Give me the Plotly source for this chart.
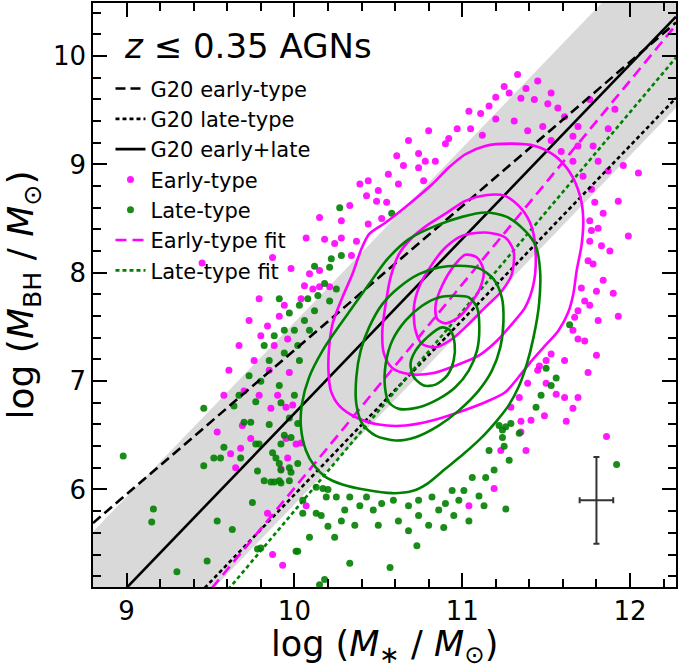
import plotly.graph_objects as go

FONT = "DejaVu Sans"
MAGENTA = "#ff00ff"
GREEN = "#008000"

# Axis limits
X_RANGE = [8.8, 12.274]
Y_RANGE = [5.1, 10.49]

# Scaling relations: log M_BH = a + b * (log M* - PIVOT)
PIVOT = 10.477
g20_early = (7.92, 1.33)
g20_late = (6.72, 1.61)
g20_all = (7.47, 1.61)
g20_all_scatter = 0.84
fit_early = (6.91, 1.88)
fit_late = (6.68, 1.84)

# Early-type AGNs lying outside the outermost density contour
early_x = [11.33, 11.45, 11.20, 11.28, 11.35, 11.43, 11.51, 11.76, 11.91,
           11.04, 10.97, 11.05, 11.12, 11.20, 11.48, 11.57, 11.61, 11.69, 11.87,
           10.90, 10.92, 10.84, 10.78, 10.74, 10.74, 10.61, 10.62, 10.56, 10.55, 10.49, 10.43, 10.44, 10.39,
           10.28, 10.15, 10.07, 10.18, 10.24, 10.28, 10.37, 10.44, 10.52,
           10.09, 10.15, 9.87, 9.98, 9.45, 9.79, 10.04,
           10.06, 10.11, 10.15, 10.21,
           9.94, 9.91, 9.84, 9.80, 9.88, 9.96, 9.85, 9.76, 9.97, 9.70, 9.79, 9.90,
           9.54, 9.69, 9.74, 9.68, 9.62, 9.65, 9.86, 9.95, 9.96, 9.92, 10.01, 10.04, 9.84, 9.87, 9.93, 10.07, 9.95, 9.99,
           11.77, 11.79, 11.76, 11.77, 11.76, 11.75, 11.78, 11.71, 11.73, 11.76, 11.69, 11.67, 11.69, 11.73,
           11.61, 11.53, 11.50, 11.45, 11.46, 11.39, 11.50, 11.56, 11.61, 11.69, 11.34, 11.29, 11.38, 11.35,
           11.41, 11.62, 11.35, 11.23, 11.86,
           11.87, 11.96, 12.05, 11.84, 11.93, 11.99, 11.88, 11.84, 11.90, 11.81, 11.93, 11.80,
           11.66, 11.59, 11.53, 11.69, 11.39, 11.31, 11.16,
           10.68, 10.80, 10.65, 10.50, 10.33, 10.77, 10.34,
           11.19, 11.04,
           11.25, 11.38, 11.11, 11.53, 11.66, 11.78, 11.81, 11.72, 11.81, 11.83, 11.80, 11.66, 11.75, 11.66, 11.49,
           9.73, 9.67, 9.61, 9.58]
early_y = [9.83, 9.77, 9.62, 9.66, 9.61, 9.60, 9.56, 9.60, 9.51,
           9.49, 9.33, 9.33, 9.27, 9.42, 9.35, 9.52, 9.44, 9.35, 9.33,
           9.19, 9.24, 9.03, 9.03, 9.10, 8.97, 9.08, 8.82, 8.91, 8.65, 8.66, 8.71, 8.85, 8.82,
           8.48, 8.51, 8.32, 8.31, 8.27, 8.32, 8.29, 8.45, 8.50,
           7.99, 8.02, 8.14, 8.04, 8.09, 7.76, 7.76,
           7.88, 7.85, 7.87, 7.87,
           7.70, 7.60, 7.51, 7.42, 7.33, 7.39, 7.10, 7.19, 7.08, 6.91, 6.87, 6.87,
           6.53, 6.59, 6.47, 6.38, 6.33, 6.20, 6.75, 6.47, 6.29, 6.19, 6.42, 6.43, 5.78, 5.40, 5.30, 5.85, 6.76, 6.78,
           8.77, 8.65, 8.48, 8.39, 8.29, 8.11, 8.08, 7.86, 7.74, 7.70, 7.65, 7.59, 7.39, 7.37,
           7.19, 7.25, 7.19, 7.10, 7.14, 6.98, 6.98, 6.88, 6.85, 6.85, 6.85, 6.76, 6.36, 6.63,
           6.64, 6.63, 6.53, 6.36, 6.49,
           8.94, 8.99, 8.92, 8.55, 8.66, 8.34, 8.20, 7.93, 7.81, 7.56, 7.60, 7.24,
           9.03, 9.12, 9.22, 9.17, 9.31, 9.40, 9.54,
           9.22, 9.31, 8.99, 8.76, 8.62, 8.85, 8.16,
           6.01, 5.85,
           9.72, 9.70, 9.47, 9.66, 9.26, 9.17, 9.03, 8.89, 8.41, 8.25, 7.83, 7.47, 7.08, 6.75, 6.68,
           7.56, 7.33, 7.10, 6.87]

# Late-type AGNs lying outside the outermost density contour
late_x = [8.98, 9.16, 9.15, 9.30, 9.48, 9.46, 9.46, 9.54, 9.63, 9.58, 9.52, 9.56, 9.68, 9.70, 9.74,
          9.79, 9.77, 9.75, 9.78, 9.82, 9.86, 9.88, 9.91, 9.85, 9.92, 9.77, 9.94, 9.92, 9.87, 9.89,
          9.91, 9.97, 9.98, 10.02, 9.92, 9.97, 9.92, 10.02, 9.98, 9.97, 9.78, 9.80, 10.01, 10.02,
          10.15, 10.18, 10.33, 10.57, 10.73,
          10.27, 10.58, 10.22, 10.28, 10.12, 10.21, 10.18, 9.91, 10.08, 10.14, 10.03, 9.97, 10.06,
          10.00, 9.94, 9.88, 9.82, 9.94, 9.85, 9.73, 9.80, 9.91, 9.67, 10.00, 9.64, 10.03, 10.02,
          10.09, 10.12, 10.21, 10.25,
          10.17, 10.20, 10.25, 10.13, 10.19, 10.05, 10.13, 10.16, 10.05, 10.09, 10.20, 10.24, 10.33,
          10.43, 10.52, 10.82, 10.90, 10.94, 11.06, 11.14, 11.16, 11.24, 11.29, 11.44, 11.50, 11.56,
          11.64, 11.22, 11.26, 11.24, 11.34, 11.25, 11.28, 11.26, 11.92,
          10.30, 10.39, 10.47, 10.59, 10.68, 10.74, 10.86, 10.98, 11.04, 10.62, 10.50, 10.80, 10.36,
          10.28, 10.74, 11.01, 11.10, 11.19, 10.95,
          11.47, 11.53, 11.13, 10.68, 10.89]
late_y = [6.31, 5.82, 5.70, 5.24, 5.34, 6.75, 6.22, 5.71, 5.63, 6.39, 6.29, 6.29, 6.29, 6.62, 6.62,
          6.42, 6.42, 5.88, 6.17, 6.08, 6.07, 6.07, 6.08, 6.60, 6.80, 6.81, 6.50, 6.42, 6.34, 6.29,
          6.24, 6.20, 6.16, 6.24, 6.18, 6.08, 6.06, 6.61, 6.48, 6.66, 5.45, 5.46, 5.43, 5.43,
          5.12, 5.17, 5.32, 5.28, 5.48,
          8.60, 8.55, 8.13, 8.16, 8.06, 8.05, 7.90, 7.76, 7.76, 7.79, 7.70, 7.63, 7.56,
          7.47, 7.47, 7.42, 7.33, 7.26, 7.19, 7.05, 7.00, 6.96, 6.87, 6.87, 6.77, 7.19, 7.33,
          7.47, 7.65, 7.74, 7.85,
          6.01, 6.00, 5.93, 6.02, 5.93, 5.90, 5.78, 5.76, 5.78, 5.56, 5.66, 5.56, 5.93,
          5.93, 5.87, 5.93, 5.87, 5.99, 6.11, 6.11, 6.36, 6.48, 6.61, 6.76, 7.12, 7.03,
          7.52, 6.59, 6.58, 6.55, 6.52, 6.40, 6.27, 5.82, 6.23,
          5.81, 5.85, 5.81, 5.90, 5.85, 5.90, 5.81, 5.90, 5.71, 5.71, 5.67, 5.67, 5.67,
          5.71, 5.76, 5.99, 5.94, 6.18, 5.76,
          6.87, 6.96, 5.85, 5.62, 5.65]

# Density contours of the early-type sample (outer to inner)
early_c1_x = [11.137, 11.296, 11.434, 11.553, 11.642, 11.702, 11.721, 11.712, 11.682, 11.662, 11.632, 11.573,
              11.494, 11.415, 11.335, 11.256, 11.137, 10.979, 10.821, 10.662, 10.504, 10.366, 10.267, 10.217,
              10.203, 10.207, 10.227, 10.286, 10.346, 10.395, 10.445, 10.544, 10.682, 10.821, 10.920, 11.019]
early_c1_y = [9.171, 9.192, 9.171, 9.079, 8.925, 8.710, 8.510, 8.264, 8.019, 7.804, 7.635, 7.466,
              7.327, 7.189, 7.036, 6.897, 6.805, 6.713, 6.636, 6.590, 6.599, 6.667, 6.774, 6.913,
              7.097, 7.312, 7.527, 7.773, 7.988, 8.203, 8.357, 8.464, 8.633, 8.817, 8.971, 9.094]
early_c2_x = [11.137, 11.256, 11.355, 11.415, 11.438, 11.425, 11.375, 11.296, 11.207, 11.098, 10.959, 10.821,
              10.682, 10.583, 10.534, 10.524, 10.544, 10.573, 10.623, 10.702, 10.801, 10.910, 11.019]
early_c2_y = [8.716, 8.710, 8.587, 8.418, 8.172, 7.896, 7.681, 7.527, 7.373, 7.235, 7.143, 7.072,
              7.066, 7.122, 7.251, 7.466, 7.711, 7.957, 8.172, 8.326, 8.449, 8.556, 8.664]
early_c3_x = [11.137, 11.256, 11.306, 11.296, 11.237, 11.137, 11.039, 10.940, 10.841, 10.761, 10.722, 10.712,
              10.742, 10.821, 10.900, 10.999]
early_c3_y = [8.372, 8.326, 8.203, 7.988, 7.834, 7.681, 7.527, 7.389, 7.312, 7.343, 7.466, 7.681,
              7.865, 8.080, 8.234, 8.341]
early_c4_x = [11.019, 11.088, 11.128, 11.108, 11.048, 10.979, 10.900, 10.851, 10.841, 10.880, 10.959]
early_c4_y = [8.166, 8.142, 8.019, 7.865, 7.711, 7.589, 7.533, 7.573, 7.696, 7.880, 8.080]

# Density contours of the late-type sample (outer to inner)
late_c1_x = [11.137, 11.266, 11.375, 11.438, 11.464, 11.458, 11.425, 11.385, 11.335, 11.276, 11.207, 11.118,
             11.009, 10.900, 10.791, 10.702, 10.583, 10.425, 10.286, 10.187, 10.118, 10.069, 10.039, 10.045,
             10.088, 10.168, 10.247, 10.346, 10.445, 10.554, 10.682, 10.841, 10.999]
late_c1_y = [8.556, 8.516, 8.387, 8.249, 8.019, 7.711, 7.404, 7.158, 6.943, 6.774, 6.636, 6.483,
             6.329, 6.191, 6.052, 5.985, 5.966, 5.997, 6.046, 6.114, 6.221, 6.360, 6.575, 6.790,
             7.036, 7.281, 7.466, 7.681, 7.896, 8.126, 8.311, 8.433, 8.516]
late_c2_x = [10.979, 11.098, 11.187, 11.236, 11.246, 11.227, 11.177, 11.098, 10.979, 10.860, 10.722, 10.603,
             10.484, 10.405, 10.369, 10.369, 10.395, 10.445, 10.524, 10.623, 10.742, 10.860]
late_c2_y = [8.065, 8.043, 7.942, 7.773, 7.558, 7.312, 7.097, 6.913, 6.728, 6.590, 6.483, 6.452,
             6.498, 6.605, 6.790, 7.036, 7.281, 7.496, 7.711, 7.865, 7.988, 8.049]
late_c3_x = [10.959, 11.039, 11.088, 11.102, 11.088, 11.039, 10.959, 10.860, 10.742, 10.623, 10.563, 10.540,
             10.544, 10.583, 10.662, 10.761, 10.860]
late_c3_y = [7.788, 7.773, 7.681, 7.496, 7.281, 7.097, 6.943, 6.836, 6.759, 6.744, 6.805, 6.943,
             7.158, 7.373, 7.558, 7.696, 7.773]
late_c4_x = [10.880, 10.930, 10.955, 10.949, 10.910, 10.841, 10.771, 10.712, 10.692, 10.722, 10.791]
late_c4_y = [7.496, 7.466, 7.343, 7.189, 7.051, 6.968, 6.959, 7.036, 7.158, 7.281, 7.404]

# Typical measurement uncertainty
err_x, err_y = 11.8, 5.9
err_dx, err_dy = 0.1, 0.4

LW = 2.6


def relation(params, xs, offset=0.0):
    a, b = params
    return [a + b * (x - PIVOT) + offset for x in xs]


def closed(xs, ys):
    return xs + xs[:1], ys + ys[:1]


line_x = [X_RANGE[0], X_RANGE[1]]
fig = go.Figure()

# Scatter band around the combined relation
fig.add_trace(go.Scatter(x=line_x, y=relation(g20_all, line_x, -g20_all_scatter), mode="lines",
                         line=dict(width=0, color="rgba(0,0,0,0)"), showlegend=False, hoverinfo="skip"))
fig.add_trace(go.Scatter(x=line_x, y=relation(g20_all, line_x, g20_all_scatter), mode="lines",
                         line=dict(width=0, color="rgba(0,0,0,0)"), fill="tonexty",
                         fillcolor="#d9d9d9", showlegend=False, hoverinfo="skip"))

legend_traces = [
    go.Scatter(x=line_x, y=relation(g20_early, line_x), mode="lines",
               line=dict(color="black", width=LW, dash="10px,5px"), name="G20 early-type"),
    go.Scatter(x=line_x, y=relation(g20_late, line_x), mode="lines",
               line=dict(color="black", width=LW, dash="4px,3px"), name="G20 late-type"),
    go.Scatter(x=line_x, y=relation(g20_all, line_x), mode="lines",
               line=dict(color="black", width=LW), name="G20 early+late"),
    go.Scatter(x=early_x, y=early_y, mode="markers",
               marker=dict(color=MAGENTA, size=7, opacity=0.9), name="Early-type"),
    go.Scatter(x=late_x, y=late_y, mode="markers",
               marker=dict(color=GREEN, size=7, opacity=0.9), name="Late-type"),
    go.Scatter(x=line_x, y=relation(fit_early, line_x), mode="lines",
               line=dict(color=MAGENTA, width=LW, dash="11px,6px"), name="Early-type fit"),
    go.Scatter(x=line_x, y=relation(fit_late, line_x), mode="lines",
               line=dict(color=GREEN, width=LW, dash="4px,3px"), name="Late-type fit"),
]

# Points go underneath the relations; legend order is kept by rank
for i in (3, 4, 0, 1, 2, 5, 6):
    t = legend_traces[i]
    t.legendrank = 1000 + i
    fig.add_trace(t)

for cx, cy, col in [(early_c1_x, early_c1_y, MAGENTA), (early_c2_x, early_c2_y, MAGENTA),
                    (early_c3_x, early_c3_y, MAGENTA), (early_c4_x, early_c4_y, MAGENTA),
                    (late_c1_x, late_c1_y, GREEN), (late_c2_x, late_c2_y, GREEN),
                    (late_c3_x, late_c3_y, GREEN), (late_c4_x, late_c4_y, GREEN)]:
    xs, ys = closed(cx, cy)
    fig.add_trace(go.Scatter(x=xs, y=ys, mode="lines",
                             line=dict(color=col, width=LW, shape="spline", smoothing=0.8),
                             showlegend=False, hoverinfo="skip"))

# Representative error bar
fig.add_trace(go.Scatter(x=[err_x], y=[err_y], mode="markers", marker=dict(size=1, color="#333333"),
                         error_x=dict(type="constant", value=err_dx, color="#333333", thickness=2, width=3),
                         error_y=dict(type="constant", value=err_dy, color="#333333", thickness=2, width=3),
                         showlegend=False, hoverinfo="skip"))

axis_common = dict(
    showgrid=False, zeroline=False, showline=True, linecolor="black", linewidth=1.5,
    mirror="ticks", ticks="inside", ticklen=14, tickwidth=1.5, tickcolor="black",
    tickfont=dict(family=FONT, size=26, color="black"),
    minor=dict(ticks="inside", ticklen=8, tickwidth=1.5, tickcolor="black", dtick=0.2),
)

fig.update_layout(
    width=679, height=668,
    margin=dict(l=93, r=1, t=2, b=81),
    plot_bgcolor="white", paper_bgcolor="white",
    font=dict(family=FONT, color="black"),
    xaxis=dict(range=X_RANGE, tick0=9, dtick=1, **axis_common),
    yaxis=dict(range=Y_RANGE, tick0=6, dtick=1,
               title=dict(text="log (<i>M</i><sub>BH</sub> / <i>M</i><sub>⊙</sub>)",
                          font=dict(family=FONT, size=36), standoff=8),
               **axis_common),
    legend=dict(x=0.03, y=0.888, xanchor="left", yanchor="top", bgcolor="rgba(0,0,0,0)",
                font=dict(family=FONT, size=21), traceorder="normal", itemwidth=30),
    annotations=[
        dict(text="<i>z</i> ≤ 0.35 AGNs", x=0.05, y=0.927, xref="paper", yref="paper",
             xanchor="left", yanchor="middle", showarrow=False,
             font=dict(family=FONT, size=34, color="black")),
        # x-axis title
        dict(text="log (<i>M</i><sub>∗</sub> / <i>M</i><sub>⊙</sub>)", x=0.5, y=-0.1025,
             xref="paper", yref="paper", xanchor="center", yanchor="middle", showarrow=False,
             font=dict(family=FONT, size=35, color="black")),
    ],
)

fig.write_html("out.html", config=dict(displayModeBar=False))
